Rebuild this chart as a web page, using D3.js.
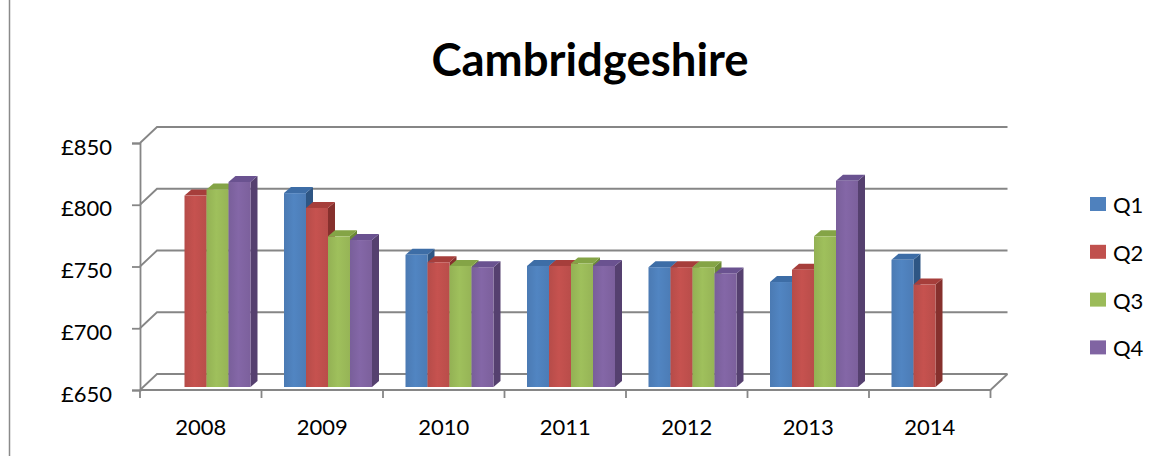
<!DOCTYPE html>
<html>
<head>
<meta charset="utf-8">
<script src="https://cdn.jsdelivr.net/npm/d3@7"></script>
<style>
  html, body { margin: 0; padding: 0; background: #fff; }
  svg { display: block; }
  text { font-family: Lato, "Open Sans", sans-serif; fill: #000; }
</style>
</head>
<body>
<svg id="chart" width="1160" height="456"></svg>
<script>
// ---- data ----
const years = ["2008", "2009", "2010", "2011", "2012", "2013", "2014"];
const quarters = ["Q1", "Q2", "Q3", "Q4"];
const q1Values = [null, 807, 757, 748, 747, 735, 753];
const q2Values = [805, 795, 751, 748, 747, 745, 733];
const q3Values = [810, 772, 748, 750, 747, 772, null];
const q4Values = [816, 769, 747, 748, 742, 817, null];
const yTicks = [650, 700, 750, 800, 850];
const titleText = "Cambridgeshire";

const seriesValues = [q1Values, q2Values, q3Values, q4Values];
const colors = ["#4F81BD", "#C0504D", "#9BBB59", "#8064A2"];
const topColors = ["#3D6DA6", "#A63E3B", "#84A446", "#6A5290"];
const sideColors = ["#2E5684", "#86302D", "#6C8A36", "#55406F"];

// ---- layout ----
const svg = d3.select("#chart");
const plotL = 140, plotR = 990.5, floorY = 390, topY = 143;
const DX = 17, DY = -16;        // wall depth
const BDX = 7, BDY = -6;        // bar depth
const SX = 3, SY = -3;          // bar placement within depth
const groupOff = 19.5;

const x0 = d3.scaleBand().domain(years).range([plotL, plotR]);
const x1 = d3.scaleBand().domain(quarters).range([0, 88]);
const yFront = d3.scaleLinear().domain([650, 850]).range([floorY, topY]);
const yBar = d3.scaleLinear().domain([650, 850]).range([floorY + SY, topY + SY]);

// chart border (left)
svg.append("line").attr("x1", 9.5).attr("x2", 9.5).attr("y1", 0).attr("y2", 456)
  .attr("stroke", "#8a8a8a").attr("stroke-width", 1.5);

// title
svg.append("text").attr("x", 590).attr("y", 76).attr("text-anchor", "middle")
  .style("font-weight", "bold").style("font-size", "45.5px").text(titleText);

// gridlines on back wall + left wall diagonals
const grid = svg.append("g");
yTicks.forEach(v => {
  const y = yFront(v);
  grid.append("path")
    .attr("d", `M${plotL},${y}L${plotL + DX},${y + DY}L${plotR + DX},${y + DY}`)
    .attr("fill", "none").attr("stroke", "#868686").attr("stroke-width", 1.8);
});
// floor front and right edges
grid.append("path")
  .attr("d", `M${plotL},${floorY}L${plotR},${floorY}L${plotR + DX},${floorY + DY}`)
  .attr("fill", "none").attr("stroke", "#868686").attr("stroke-width", 1.8);

// y axis
const yAxis = d3.axisLeft(yFront).tickValues(yTicks).tickFormat(d => "£" + d)
  .tickSize(8).tickPadding(20);
const yg = svg.append("g").attr("transform", `translate(${plotL},0)`).call(yAxis);
yg.select(".domain").attr("stroke", "#868686").attr("stroke-width", 1.8);
yg.selectAll(".tick line").attr("stroke", "#868686").attr("stroke-width", 1.8);
yg.selectAll(".tick text").attr("dy", "0.5em").style("font-size", "22px")
  .style("font-family", "Lato, sans-serif").attr("fill", "#000");

// x axis labels
const xAxis = d3.axisBottom(x0).tickSize(0).tickPadding(29);
const xg = svg.append("g").attr("transform", `translate(0,${floorY})`).call(xAxis);
xg.select(".domain").remove();
xg.selectAll(".tick text").style("font-size", "22px")
  .style("font-family", "Lato, sans-serif").attr("fill", "#000");
// category boundary ticks
const bounds = years.map(y => x0(y)).concat([x0(years[years.length - 1]) + x0.bandwidth()]);
svg.append("g").selectAll("line").data(bounds).join("line")
  .attr("x1", d => d).attr("x2", d => d).attr("y1", floorY).attr("y2", floorY + 8)
  .attr("stroke", "#868686").attr("stroke-width", 1.8);

// gradients for front faces
const defs = svg.append("defs");
colors.forEach((c, i) => {
  const g = defs.append("linearGradient").attr("id", "g" + i)
    .attr("x1", "0").attr("x2", "1").attr("y1", "0").attr("y2", "0");
  const base = d3.color(c);
  g.append("stop").attr("offset", "0").attr("stop-color", base.darker(0.15));
  g.append("stop").attr("offset", "0.45").attr("stop-color", base.brighter(0.08));
  g.append("stop").attr("offset", "1").attr("stop-color", base.darker(0.1));
});

// bars
const bars = svg.append("g");
const w = x1.bandwidth();
const bottom = yBar(650);
years.forEach((yr, i) => {
  quarters.forEach((q, qi) => {
    const v = seriesValues[qi][i];
    if (v == null) return;
    const x = x0(yr) + groupOff + x1(q) + SX;
    const y = yBar(v);
    // side face
    bars.append("path")
      .attr("d", `M${x + w},${y}L${x + w + BDX},${y + BDY}L${x + w + BDX},${bottom + BDY}L${x + w},${bottom}Z`)
      .attr("fill", sideColors[qi]);
    // top face
    bars.append("path")
      .attr("d", `M${x},${y}L${x + BDX},${y + BDY}L${x + w + BDX},${y + BDY}L${x + w},${y}Z`)
      .attr("fill", topColors[qi]);
    // front face
    bars.append("rect").attr("x", x).attr("y", y).attr("width", w).attr("height", bottom - y)
      .attr("fill", `url(#g${qi})`);
  });
});

// legend
const legend = svg.append("g");
quarters.forEach((q, i) => {
  const cy = 204 + i * 47.8;
  legend.append("rect").attr("x", 1090).attr("y", cy - 7).attr("width", 16).attr("height", 14)
    .attr("fill", colors[i]);
  legend.append("text").attr("x", 1113).attr("y", cy + 1).attr("dy", "0.36em")
    .style("font-size", "22px").text(q);
});
</script>
</body>
</html>
